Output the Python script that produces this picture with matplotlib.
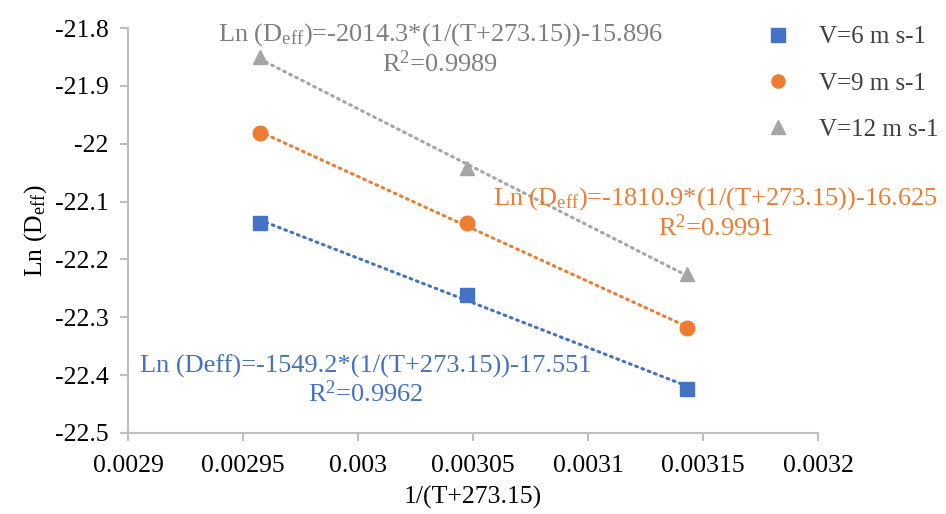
import numpy as np
import matplotlib
matplotlib.use("Agg")
import matplotlib.pyplot as plt

plt.rcParams['font.family'] = ['Liberation Serif', 'DejaVu Serif']
plt.rcParams['mathtext.fontset'] = 'custom'
plt.rcParams['mathtext.rm'] = 'Liberation Serif'
plt.rcParams['mathtext.it'] = 'Liberation Serif:italic'

# data
inv_T = [1/338.15, 1/328.15, 1/318.15]
ln_v6 = [-22.137, -22.261, -22.424]
ln_v9 = [-21.982, -22.137, -22.319]
ln_v12 = [-21.850, -22.042, -22.225]
labels = ['V=6 m s-1', 'V=9 m s-1', 'V=12 m s-1']
eq_texts = [
    'Ln (Deff)=-1549.2*(1/(T+273.15))-17.551\nR$^2$=0.9962',
    'Ln (D$_\\mathrm{eff}$)=-1810.9*(1/(T+273.15))-16.625\nR$^2$=0.9991',
    'Ln (D$_\\mathrm{eff}$)=-2014.3*(1/(T+273.15))-15.896\nR$^2$=0.9989',
]
eq_pos = [(0.0030035, -22.41), (0.0031555, -22.12), (0.0030357, -21.836)]

colors = ['#4472C4', '#ED7D31', '#A5A5A5']
txt_colors = ['#4472C4', '#ED7D31', '#7F7F7F']
markers = ['s', 'o', '^']

fig = plt.figure(figsize=(9.46, 5.14), dpi=100)
ax = fig.add_axes([0.1353, 0.1576, 0.7294, 0.7879])

x = np.array(inv_T)
for ys, c, tc, m, lab, txt, pos in zip([ln_v6, ln_v9, ln_v12], colors, txt_colors,
                                        markers, labels, eq_texts, eq_pos):
    ys = np.array(ys)
    k, b = np.polyfit(x, ys, 1)
    xx = np.array([x.min(), x.max()])
    ax.plot(xx, k*xx + b, color=c, lw=2.2, linestyle=(0, (0.6, 1.6)),
            dash_capstyle='round', zorder=2)
    ax.plot(x, ys, linestyle='none', marker=m, color=c, markersize=10.5,
            label=lab, zorder=3)
    ax.text(pos[0], pos[1], txt, color=tc, fontsize=19, ha='center', va='center',
            linespacing=1.1, zorder=4)

ax.set_xlim(0.0029, 0.0032)
ax.set_ylim(-22.5, -21.8)
ax.set_xticks([0.0029, 0.00295, 0.003, 0.00305, 0.0031, 0.00315, 0.0032])
ax.set_xticklabels(['0.0029', '0.00295', '0.003', '0.00305', '0.0031', '0.00315', '0.0032'])
ax.set_yticks([-22.5, -22.4, -22.3, -22.2, -22.1, -22, -21.9, -21.8])
ax.set_yticklabels(['-22.5', '-22.4', '-22.3', '-22.2', '-22.1', '-22', '-21.9', '-21.8'])

for s in ['top', 'right']:
    ax.spines[s].set_visible(False)
for s in ['left', 'bottom']:
    ax.spines[s].set_color('#BFBFBF')
    ax.spines[s].set_linewidth(1.5)
ax.tick_params(colors='#BFBFBF', labelcolor='black', labelsize=18.5, length=6,
               width=1.5, direction='out')
ax.tick_params(axis='x', pad=10)
ax.tick_params(axis='y', pad=8)

ax.set_xlabel('1/(T+273.15)', fontsize=18.5, labelpad=6)
ax.set_ylabel('Ln (D$_\\mathrm{eff}$)', fontsize=18.5, labelpad=4)

leg = ax.legend(loc='upper left', bbox_to_anchor=(0.9, 1.03), frameon=False,
                fontsize=18, handletextpad=0.9, handlelength=1.5, labelspacing=0.95,
                borderaxespad=0, markerscale=0.9)
for t in leg.get_texts():
    t.set_color('#404040')

fig.savefig('out.png', dpi=100)
